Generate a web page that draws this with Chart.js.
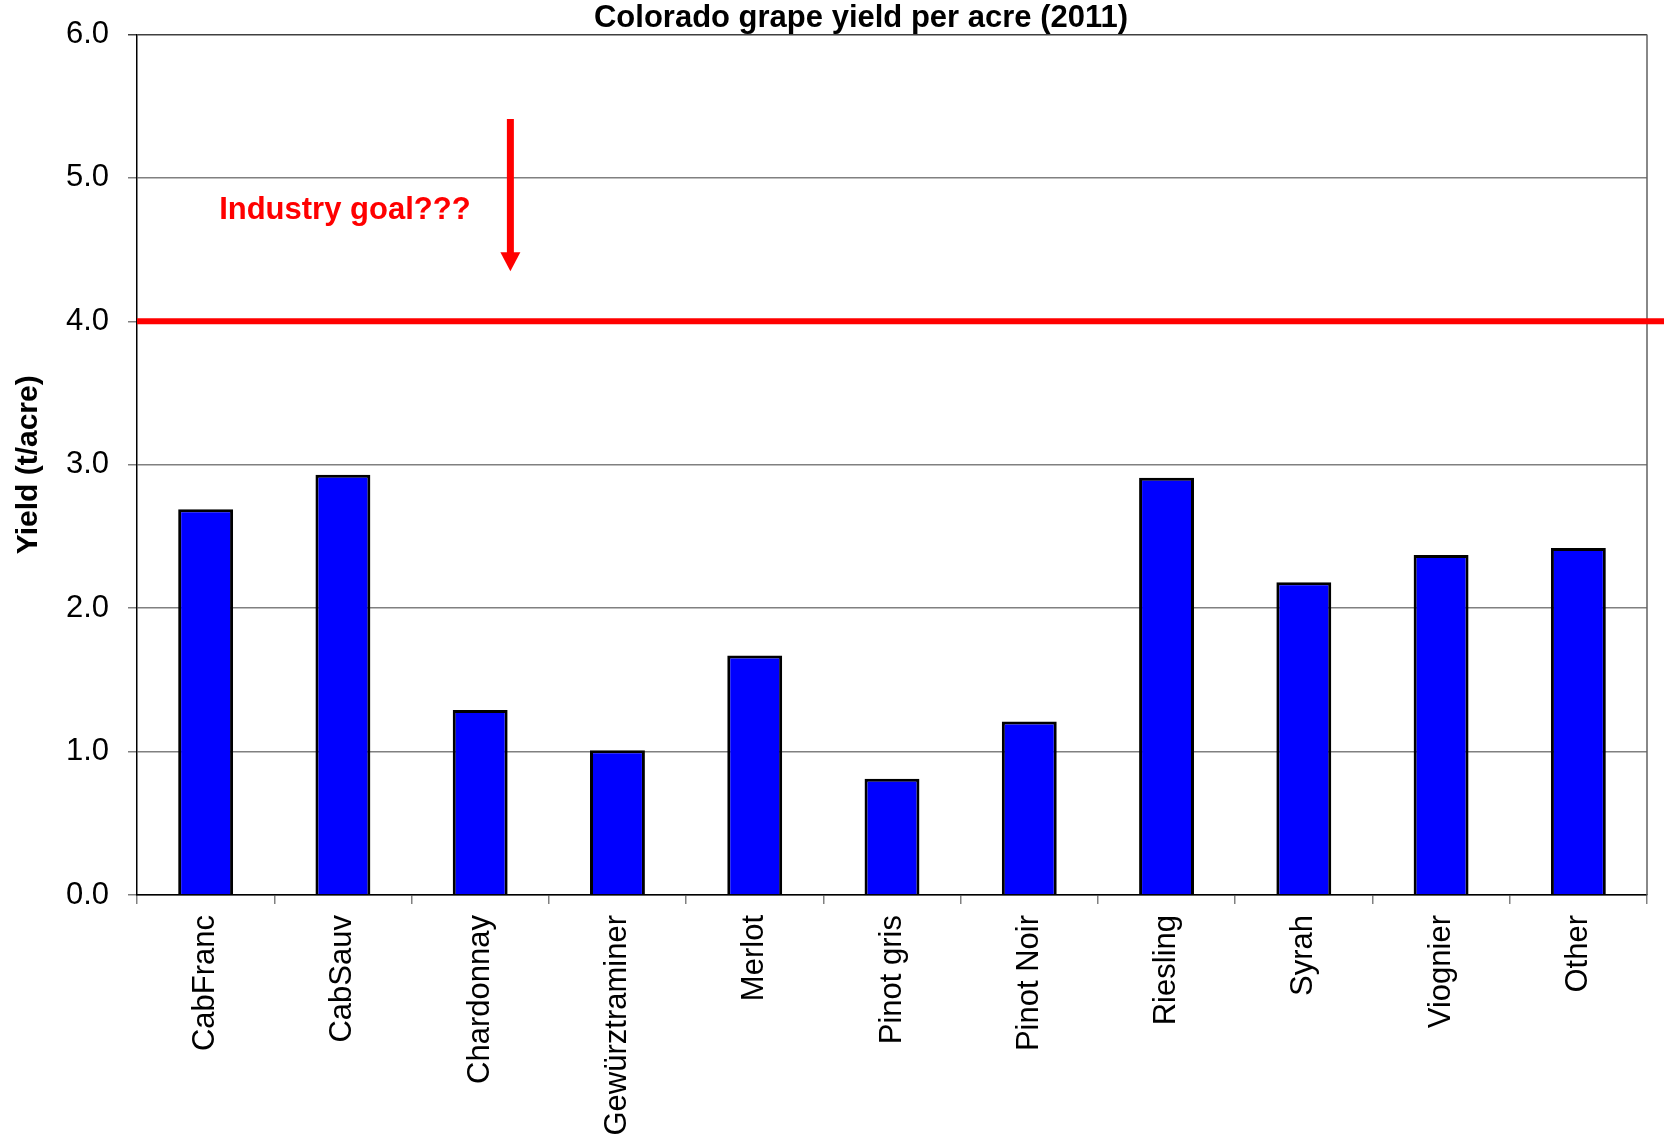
<!DOCTYPE html>
<html lang="en">
<head>
    <meta charset="UTF-8">
    <title>Colorado grape yield per acre (2011)</title>
    <style>
        body {
            margin: 0;
            padding: 0;
            background: #FFFFFF;
        }

        .chart-box {
            width: 1664px;
            height: 1137px;
            position: relative;
        }
    </style>
    <script src="https://cdn.jsdelivr.net/npm/chart.js"></script>
</head>
<body>
    <div class="chart-box">
        <canvas id="yieldChart"></canvas>
    </div>

    <script>
        // Data
        const varieties = ['CabFranc', 'CabSauv', 'Chardonnay', 'Gewürztraminer', 'Merlot',
            'Pinot gris', 'Pinot Noir', 'Riesling', 'Syrah', 'Viognier', 'Other'];
        const yieldPerAcre = [2.69, 2.93, 1.29, 1.01, 1.67, 0.81, 1.21, 2.91, 2.18, 2.37, 2.42];
        const yTicks = [0, 1, 2, 3, 4, 5, 6];
        const industryGoal = 4.0;

        const chartTitle = 'Colorado grape yield per acre (2011)';
        const goalLabel = 'Industry goal???';
        // annotation anchors in data units (category index, yield)
        const goalLabelAt = [1.93, 4.77];
        const arrowX = 2.22;
        const arrowFrom = 5.41;
        const arrowTo = 4.35;

        const FONT = "'Liberation Sans', Arial, sans-serif";

        // Red goal line, arrow, label, frame and title
        const extras = {
            id: 'extras',
            afterDatasetsDraw(chart) {
                const { ctx, chartArea, scales } = chart;
                const x = scales.x, y = scales.y;
                ctx.save();

                // right frame
                ctx.strokeStyle = '#606060';
                ctx.lineWidth = 1.5;
                ctx.beginPath();
                ctx.moveTo(chartArea.right, chartArea.top);
                ctx.lineTo(chartArea.right, chartArea.bottom);
                ctx.stroke();

                // goal line runs past the plot to the edge
                const gy = y.getPixelForValue(industryGoal);
                ctx.strokeStyle = '#FF0000';
                ctx.lineWidth = 6;
                ctx.beginPath();
                ctx.moveTo(chartArea.left, gy);
                ctx.lineTo(chart.width, gy);
                ctx.stroke();

                // arrow
                const ax = x.getPixelForValue(arrowX);
                const ay1 = y.getPixelForValue(arrowFrom);
                const ay2 = y.getPixelForValue(arrowTo);
                ctx.lineWidth = 7;
                ctx.beginPath();
                ctx.moveTo(ax, ay1);
                ctx.lineTo(ax, ay2 - 16);
                ctx.stroke();
                ctx.fillStyle = '#FF0000';
                ctx.beginPath();
                ctx.moveTo(ax - 10, ay2 - 19);
                ctx.lineTo(ax + 10, ay2 - 19);
                ctx.lineTo(ax, ay2);
                ctx.closePath();
                ctx.fill();

                // label
                ctx.font = 'bold 31px ' + FONT;
                ctx.textAlign = 'right';
                ctx.textBaseline = 'middle';
                ctx.fillText(goalLabel, x.getPixelForValue(goalLabelAt[0]), y.getPixelForValue(goalLabelAt[1]));

                // title
                ctx.fillStyle = '#000000';
                ctx.textAlign = 'center';
                ctx.textBaseline = 'alphabetic';
                ctx.fillText(chartTitle, chart.width / 2 + 29, 27);

                ctx.restore();
            }
        };

        const ctx = document.getElementById('yieldChart').getContext('2d');
        const chart = new Chart(ctx, {
            type: 'bar',
            data: {
                labels: varieties,
                datasets: [{
                    label: 'Yield',
                    data: yieldPerAcre,
                    backgroundColor: '#0000FF',
                    borderColor: '#000000',
                    borderWidth: 3,
                    categoryPercentage: 1.0,
                    barPercentage: 0.4
                }]
            },
            options: {
                responsive: true,
                maintainAspectRatio: false,
                devicePixelRatio: 1,
                animation: false,
                layout: { padding: { top: 33, right: 17, left: 0, bottom: 0 } },
                plugins: {
                    legend: { display: false },
                    title: { display: false },
                    tooltip: { enabled: false }
                },
                scales: {
                    x: {
                        afterFit(scale) { scale.height = 242; },
                        grid: {
                            drawOnChartArea: false,
                            drawTicks: true,
                            tickLength: 9,
                            color: '#808080',
                            lineWidth: 1.5
                        },
                        border: { color: '#000000', width: 1.5 },
                        ticks: {
                            color: '#000000',
                            minRotation: 90,
                            maxRotation: 90,
                            autoSkip: false,
                            padding: 11,
                            font: { family: FONT, size: 31 }
                        }
                    },
                    y: {
                        min: 0,
                        max: 6,
                        afterFit(scale) { scale.width = 137; },
                        afterBuildTicks(scale) {
                            scale.ticks = yTicks.map(v => ({ value: v }));
                        },
                        grid: {
                            color: (c) => c.tick && c.tick.value === 6 ? '#404040' : '#808080',
                            lineWidth: 1.5,
                            tickLength: 9
                        },
                        border: { color: '#000000', width: 1.5 },
                        ticks: {
                            color: '#000000',
                            padding: 19,
                            font: { family: FONT, size: 31, lineHeight: 1.0 },
                            callback: (v) => Number(v).toFixed(1)
                        },
                        title: {
                            display: true,
                            text: 'Yield (t/acre)',
                            color: '#000000',
                            padding: { top: 11, bottom: 0 },
                            font: { family: FONT, size: 30, weight: 'bold' }
                        }
                    }
                }
            },
            plugins: [extras]
        });
    </script>
</body>
</html>
